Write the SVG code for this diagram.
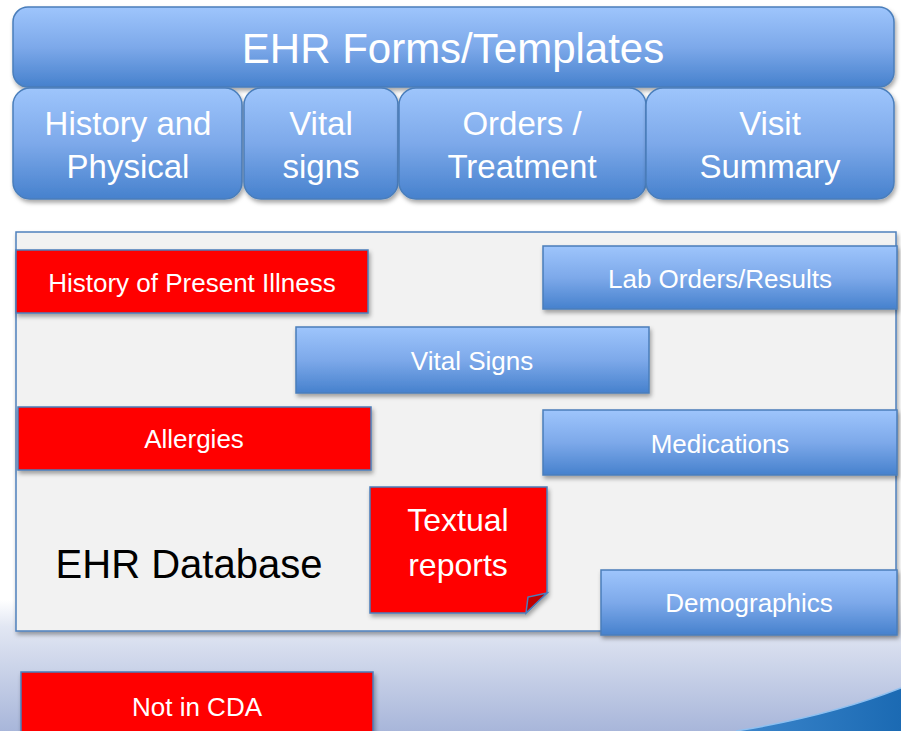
<svg xmlns="http://www.w3.org/2000/svg" width="901" height="731" viewBox="0 0 901 731">
  <defs>
    <linearGradient id="blueGrad" x1="0" y1="0" x2="0" y2="1">
      <stop offset="0" stop-color="#9EC5FC"/>
      <stop offset="0.5" stop-color="#7DA9EA"/>
      <stop offset="1" stop-color="#4681CD"/>
    </linearGradient>
    <linearGradient id="bgGrad" gradientUnits="userSpaceOnUse" x1="0" y1="600" x2="0" y2="731">
      <stop offset="0" stop-color="#FFFFFF"/>
      <stop offset="0.2" stop-color="#E2E7F3"/>
      <stop offset="1" stop-color="#A8B6DA"/>
    </linearGradient>
    <linearGradient id="swooshGrad" x1="0" y1="0" x2="1" y2="0">
      <stop offset="0" stop-color="#3C86CC"/>
      <stop offset="1" stop-color="#1B6AB3"/>
    </linearGradient>
    <filter id="shadow" x="-10%" y="-20%" width="120%" height="150%">
      <feDropShadow dx="1.5" dy="3" stdDeviation="2" flood-color="#000" flood-opacity="0.35"/>
    </filter>
    <style>
      .blue { fill: url(#blueGrad); stroke: #4A7EBB; stroke-width: 1.5; filter: url(#shadow); }
      .red { fill: #FF0000; stroke: #4A7EBB; stroke-width: 1.5; filter: url(#shadow); }
      .lbl { font-family: "Liberation Sans", Arial, sans-serif; fill: #FFFFFF; text-anchor: middle; }
      .hdr { font-size: 33px; }
      .sm { font-size: 26px; }
    </style>
  </defs>

  <!-- background -->
  <rect x="0" y="0" width="901" height="731" fill="#FFFFFF"/>
  <rect x="0" y="600" width="901" height="131" fill="url(#bgGrad)"/>
  <path d="M736 731 Q830 716 901 688 L901 731 Z" fill="url(#swooshGrad)"/>
  <path d="M736 731 Q830 716 901 688" fill="none" stroke="#8FC0F0" stroke-width="1.5"/>

  <!-- top banner -->
  <g id="ehr-forms">
    <rect class="blue" x="13" y="7" width="881" height="80" rx="15"/>
    <text class="lbl" x="453" y="63" font-size="42">EHR Forms/Templates</text>
  </g>
  <g id="history-physical">
    <rect class="blue" x="13" y="88" width="229" height="111" rx="17"/>
    <text class="lbl hdr" x="128" y="135">History and</text>
    <text class="lbl hdr" x="128" y="178">Physical</text>
  </g>
  <g id="vital-signs-form">
    <rect class="blue" x="244" y="88" width="154" height="111" rx="17"/>
    <text class="lbl hdr" x="321" y="135">Vital</text>
    <text class="lbl hdr" x="321" y="178">signs</text>
  </g>
  <g id="orders-treatment">
    <rect class="blue" x="399" y="88" width="247" height="111" rx="17"/>
    <text class="lbl hdr" x="522" y="135">Orders /</text>
    <text class="lbl hdr" x="522" y="178">Treatment</text>
  </g>
  <g id="visit-summary">
    <rect class="blue" x="646" y="88" width="248" height="111" rx="17"/>
    <text class="lbl hdr" x="770" y="135">Visit</text>
    <text class="lbl hdr" x="770" y="178">Summary</text>
  </g>

  <!-- database container -->
  <g id="ehr-database">
    <rect x="16" y="232" width="880" height="399" fill="#F2F2F2" stroke="#4F81BD" stroke-width="1.5" filter="url(#shadow)"/>
    <text x="189" y="578" font-family="Liberation Sans, Arial, sans-serif" font-size="40" fill="#000000" text-anchor="middle">EHR Database</text>
  </g>

  <g id="hpi">
    <rect class="red" x="16" y="250" width="352" height="63"/>
    <text class="lbl sm" x="192" y="292">History of Present Illness</text>
  </g>
  <g id="lab-orders">
    <rect class="blue" x="543" y="246" width="354" height="63"/>
    <text class="lbl sm" x="720" y="288">Lab Orders/Results</text>
  </g>
  <g id="vital-signs">
    <rect class="blue" x="296" y="327" width="353" height="66"/>
    <text class="lbl sm" x="472" y="370">Vital Signs</text>
  </g>
  <g id="allergies">
    <rect class="red" x="18" y="407" width="353" height="63"/>
    <text class="lbl sm" x="194" y="448">Allergies</text>
  </g>
  <g id="medications">
    <rect class="blue" x="543" y="410" width="354" height="65"/>
    <text class="lbl sm" x="720" y="453">Medications</text>
  </g>
  <g id="textual-reports">
    <path class="red" d="M370 487 L547 487 L547 593 L526 613 L370 613 Z"/>
    <path d="M547 593 L528 597 L526 613 Z" fill="#C00000" stroke="#4A7EBB" stroke-width="1.5"/>
    <text class="lbl" x="458" y="531" font-size="32">Textual</text>
    <text class="lbl" x="458" y="576" font-size="32">reports</text>
  </g>
  <g id="demographics">
    <rect class="blue" x="601" y="570" width="296" height="65"/>
    <text class="lbl sm" x="749" y="612">Demographics</text>
  </g>

  <!-- legend -->
  <g id="not-in-cda">
    <rect class="red" x="21" y="672" width="352" height="70"/>
    <text class="lbl sm" x="197" y="716">Not in CDA</text>
  </g>

  <g id="connectors"></g>
</svg>
